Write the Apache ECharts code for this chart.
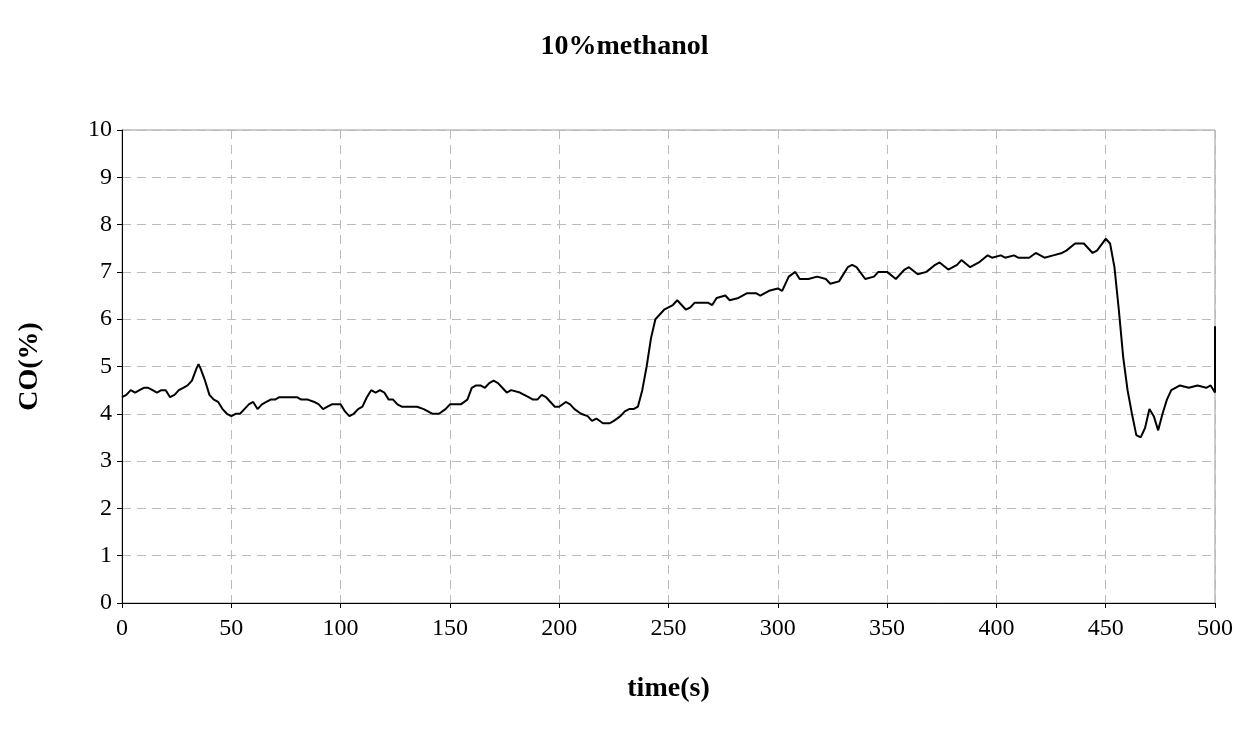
<!DOCTYPE html>
<html>
<head>
<meta charset="utf-8">
<script src="https://cdn.jsdelivr.net/npm/echarts@6/dist/echarts.min.js"></script>
<style>html,body{margin:0;padding:0;background:#fff}#main{width:1249px;height:740px}</style>
</head>
<body>
<div id="main"></div>
<script>
// time (s)
const times = [0,2,4,6,8,10,12,14,16,18,20,22,24,26,28,30,32,34,35,36,38,40,42,44,46,48,50,52,54,56,58,60,62,64,66,68,70,72,75,80,82,85,88,90,92,94,96,98,100,102,104,106,108,110,112,114,116,118,120,122,124,126,128,130,135,138,140,142,145,148,150,155,158,160,162,164,166,168,170,172,174,176,178,182,184,186,188,190,192,194,196,198,200,203,205,207,210,213,215,217,220,223,225,228,230,232,234,236,238,240,242,244,246,248,250,252,254,256,258,260,262,264,268,270,272,276,278,282,286,290,292,296,300,302,305,308,310,314,318,322,324,328,332,334,336,340,344,346,350,354,358,360,364,368,372,374,378,382,384,388,392,396,398,402,404,408,410,415,418,422,426,430,432,436,440,442,444,446,450,452,454,456,458,460,462,464,466,468,470,472,474,476,478,480,484,488,492,496,498,500,500];
// CO (%)
const coValues = [4.35,4.4,4.5,4.45,4.5,4.55,4.55,4.5,4.45,4.5,4.5,4.35,4.4,4.5,4.55,4.6,4.7,4.95,5.05,4.95,4.7,4.4,4.3,4.25,4.1,4.0,3.95,4.0,4.0,4.1,4.2,4.25,4.1,4.2,4.25,4.3,4.3,4.35,4.35,4.35,4.3,4.3,4.25,4.2,4.1,4.15,4.2,4.2,4.2,4.05,3.95,4.0,4.1,4.15,4.35,4.5,4.45,4.5,4.45,4.3,4.3,4.2,4.15,4.15,4.15,4.1,4.05,4.0,4.0,4.1,4.2,4.2,4.3,4.55,4.6,4.6,4.55,4.65,4.7,4.65,4.55,4.45,4.5,4.45,4.4,4.35,4.3,4.3,4.4,4.35,4.25,4.15,4.15,4.25,4.2,4.1,4.0,3.95,3.85,3.9,3.8,3.8,3.85,3.95,4.05,4.1,4.1,4.15,4.5,5.0,5.6,6.0,6.1,6.2,6.25,6.3,6.4,6.3,6.2,6.25,6.35,6.35,6.35,6.3,6.45,6.5,6.4,6.45,6.55,6.55,6.5,6.6,6.65,6.6,6.9,7.0,6.85,6.85,6.9,6.85,6.75,6.8,7.1,7.15,7.1,6.85,6.9,7.0,7.0,6.85,7.05,7.1,6.95,7.0,7.15,7.2,7.05,7.15,7.25,7.1,7.2,7.35,7.3,7.35,7.3,7.35,7.3,7.3,7.4,7.3,7.35,7.4,7.45,7.6,7.6,7.5,7.4,7.45,7.7,7.6,7.1,6.2,5.2,4.5,4.0,3.55,3.5,3.7,4.1,3.95,3.65,4.0,4.3,4.5,4.6,4.55,4.6,4.55,4.6,4.45,5.85];

const points = times.map((t, i) => [t, coValues[i]]);
const font = 'Liberation Serif, Times New Roman, serif';

const chart = echarts.init(document.getElementById('main'), null, { renderer: 'canvas' });
chart.setOption({
    animation: false,
    title: {
        text: '10%methanol',
        left: 'center',
        top: 28,
        textStyle: { fontFamily: font, fontSize: 28, fontWeight: 'bold', color: '#000' }
    },
    grid: {
        left: 122, right: 34, top: 130, bottom: 137,
        show: true, borderColor: '#999', borderWidth: 1
    },
    xAxis: {
        type: 'value', min: 0, max: 500, interval: 50,
        name: 'time(s)', nameLocation: 'middle', nameGap: 72,
        nameTextStyle: { fontFamily: font, fontSize: 28, fontWeight: 'bold', color: '#000' },
        axisLine: { lineStyle: { color: '#000' } },
        axisTick: { show: true, length: 5, lineStyle: { color: '#000' } },
        axisLabel: { fontFamily: font, fontSize: 24, color: '#000', margin: 14 },
        splitLine: { show: true, lineStyle: { color: '#bbb', type: [9, 6] } }
    },
    yAxis: {
        type: 'value', min: 0, max: 10, interval: 1,
        name: 'CO(%)', nameLocation: 'middle', nameGap: 78,
        nameTextStyle: { fontFamily: font, fontSize: 28, fontWeight: 'bold', color: '#000' },
        axisLine: { show: true, lineStyle: { color: '#000' } },
        axisTick: { show: true, length: 5, lineStyle: { color: '#000' } },
        axisLabel: { fontFamily: font, fontSize: 24, color: '#000', margin: 10 },
        splitLine: { show: true, lineStyle: { color: '#bbb', type: [9, 6] } }
    },
    series: [{
        type: 'line',
        data: points,
        showSymbol: false,
        lineStyle: { color: '#000', width: 2 }
    }]
});
</script>
</body>
</html>
